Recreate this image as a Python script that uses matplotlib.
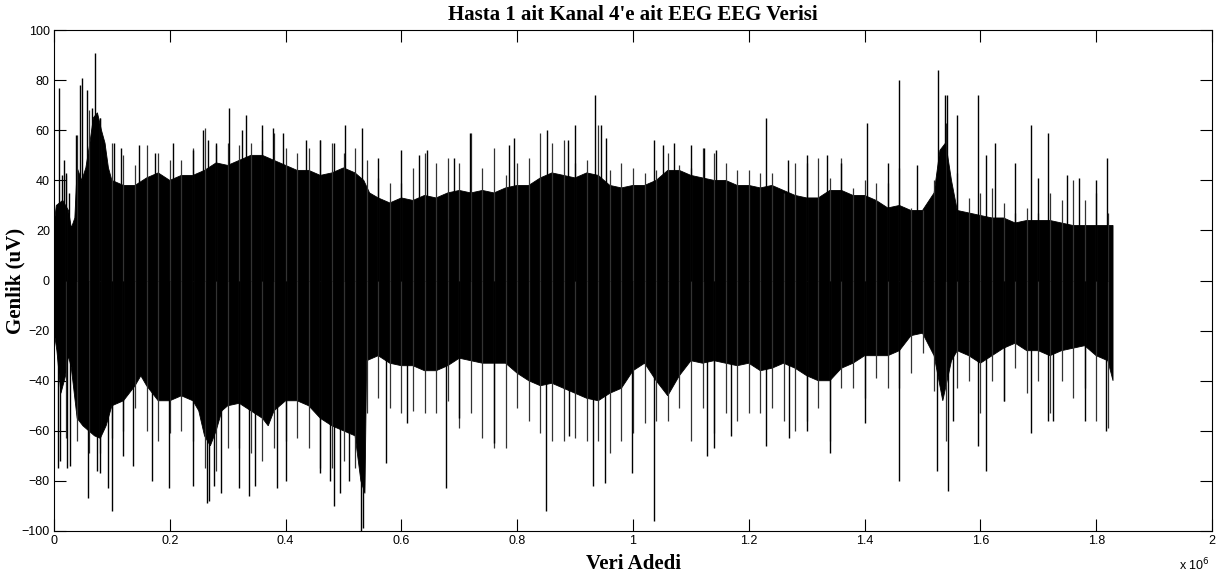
import numpy as np
import matplotlib.pyplot as plt

# signal envelope (x in units of 1e6 samples, uV)
env_x = [0.000, 0.004, 0.015, 0.025, 0.030, 0.036, 0.040, 0.048, 0.055, 0.062,
         0.068, 0.075, 0.082, 0.088, 0.094, 0.100, 0.12, 0.14, 0.16, 0.18,
         0.20, 0.22, 0.24, 0.26, 0.28, 0.30, 0.32, 0.34, 0.36, 0.38,
         0.40, 0.42, 0.44, 0.46, 0.48, 0.50, 0.52, 0.535, 0.545, 0.56,
         0.58, 0.60, 0.62, 0.64, 0.66, 0.68, 0.70, 0.72, 0.74, 0.76,
         0.78, 0.80, 0.82, 0.84, 0.86, 0.88, 0.90, 0.92, 0.94, 0.96,
         0.98, 1.00, 1.02, 1.04, 1.06, 1.08, 1.10, 1.12, 1.14, 1.16,
         1.18, 1.20, 1.22, 1.24, 1.26, 1.28, 1.30, 1.32, 1.34, 1.36,
         1.38, 1.40, 1.42, 1.44, 1.46, 1.48, 1.50, 1.52, 1.53, 1.54,
         1.55, 1.56, 1.58, 1.60, 1.62, 1.64, 1.66, 1.68, 1.70, 1.72,
         1.74, 1.76, 1.78, 1.80, 1.82, 1.829]
env_top = [22, 30, 32, 28, 21, 25, 45, 40, 45, 55,
           65, 67, 60, 55, 45, 40, 38, 38, 41, 43,
           40, 42, 42, 44, 47, 46, 48, 50, 50, 48,
           46, 44, 44, 42, 43, 45, 43, 40, 35, 33,
           31, 33, 32, 34, 33, 35, 36, 35, 36, 35,
           37, 38, 38, 41, 43, 42, 41, 43, 42, 38,
           37, 38, 38, 40, 44, 44, 42, 41, 40, 40,
           38, 38, 37, 38, 36, 34, 33, 33, 36, 36,
           34, 34, 32, 29, 30, 28, 28, 35, 52, 55,
           40, 28, 27, 26, 25, 25, 23, 24, 24, 24,
           23, 22, 22, 22, 22, 22]

env_low_x = [0.000, 0.005, 0.012, 0.02, 0.025, 0.03, 0.035, 0.04, 0.05, 0.06,
             0.07, 0.08, 0.09, 0.10, 0.12, 0.14, 0.15, 0.16, 0.18, 0.20,
             0.22, 0.24, 0.25, 0.26, 0.27, 0.28, 0.29, 0.30, 0.32, 0.34,
             0.36, 0.37, 0.38, 0.40, 0.42, 0.44, 0.46, 0.48, 0.50, 0.52,
             0.53, 0.537, 0.54, 0.56, 0.58, 0.60, 0.62, 0.64, 0.66, 0.68,
             0.70, 0.72, 0.74, 0.76, 0.78, 0.80, 0.82, 0.84, 0.86, 0.88,
             0.90, 0.92, 0.94, 0.96, 0.98, 1.00, 1.02, 1.04, 1.06, 1.08,
             1.10, 1.12, 1.14, 1.16, 1.18, 1.20, 1.22, 1.24, 1.26, 1.28,
             1.30, 1.32, 1.34, 1.36, 1.38, 1.40, 1.42, 1.44, 1.46, 1.48,
             1.50, 1.52, 1.535, 1.55, 1.56, 1.58, 1.60, 1.62, 1.64, 1.66,
             1.68, 1.70, 1.72, 1.74, 1.76, 1.78, 1.80, 1.82, 1.829]
env_low = [-20, -28, -45, -38, -30, -35, -45, -55, -58, -60,
           -62, -63, -58, -50, -48, -42, -38, -42, -48, -48,
           -46, -48, -52, -62, -66, -60, -52, -50, -49, -52,
           -55, -58, -52, -48, -48, -50, -55, -58, -60, -62,
           -80, -85, -32, -30, -33, -34, -34, -36, -36, -34,
           -31, -32, -33, -33, -33, -37, -40, -42, -41, -43,
           -45, -47, -48, -45, -43, -36, -33, -40, -46, -38,
           -32, -33, -32, -33, -34, -33, -36, -35, -33, -35,
           -38, -40, -40, -35, -33, -30, -30, -30, -28, -22,
           -21, -30, -48, -32, -28, -30, -33, -30, -27, -25,
           -28, -28, -30, -28, -27, -26, -30, -32, -40]

# ragged fringe just outside the body, every 0.02e6 samples
fringe_x = [0.02, 0.04, 0.06, 0.08, 0.10, 0.12, 0.14, 0.16, 0.18, 0.20,
            0.22, 0.24, 0.26, 0.28, 0.30, 0.32, 0.34, 0.36, 0.38, 0.40,
            0.42, 0.44, 0.46, 0.48, 0.50, 0.52, 0.54, 0.56, 0.58, 0.60,
            0.62, 0.64, 0.66, 0.68, 0.70, 0.72, 0.74, 0.76, 0.78, 0.80,
            0.82, 0.84, 0.86, 0.88, 0.90, 0.92, 0.94, 0.96, 0.98, 1.00,
            1.02, 1.04, 1.06, 1.08, 1.10, 1.12, 1.14, 1.16, 1.18, 1.20,
            1.22, 1.24, 1.26, 1.28, 1.30, 1.32, 1.34, 1.36, 1.38, 1.40,
            1.42, 1.44, 1.46, 1.48, 1.50, 1.52, 1.54, 1.56, 1.58, 1.60,
            1.62, 1.64, 1.66, 1.68, 1.70, 1.72, 1.74, 1.76, 1.78, 1.80,
            1.82]
fringe_top = [42, 58, 68, 65, 55, 50, 46, 54, 51, 48,
              48, 53, 61, 54, 55, 54, 55, 56, 59, 53,
              51, 53, 56, 55, 51, 53, 48, 41, 39, 39,
              45, 51, 47, 49, 47, 59, 45, 53, 42, 47,
              49, 59, 55, 56, 47, 48, 62, 44, 47, 45,
              43, 44, 51, 46, 45, 53, 51, 47, 44, 44,
              43, 43, 35, 47, 47, 49, 41, 49, 37, 40,
              39, 39, 45, 29, 28, 40, 63, 43, 33, 35,
              37, 31, 27, 29, 27, 35, 32, 40, 32, 35,
              27]
fringe_low = [-63, -64, -69, -69, -63, -60, -51, -60, -64, -61,
              -60, -64, -75, -76, -67, -67, -69, -72, -67, -64,
              -63, -67, -75, -75, -72, -75, -53, -47, -51, -53,
              -52, -53, -53, -48, -59, -53, -63, -67, -67, -51,
              -56, -61, -64, -64, -63, -64, -64, -69, -64, -61,
              -57, -56, -56, -51, -64, -51, -61, -53, -56, -53,
              -53, -51, -56, -60, -56, -51, -64, -43, -43, -47,
              -39, -43, -43, -37, -29, -44, -64, -43, -40, -53,
              -40, -48, -35, -45, -40, -53, -40, -47, -43, -56,
              -59]

# isolated peaks above the body
up_x = [0.009, 0.013, 0.018, 0.021, 0.026, 0.038, 0.045, 0.049, 0.057, 0.065,
        0.0714, 0.079, 0.086, 0.104, 0.116, 0.146, 0.175, 0.205, 0.24, 0.258,
        0.266, 0.28, 0.302, 0.325, 0.332, 0.360, 0.378, 0.395, 0.435, 0.46,
        0.484, 0.503, 0.532, 0.56, 0.60, 0.63, 0.644, 0.69, 0.719, 0.785,
        0.795, 0.852, 0.888, 0.90, 0.934, 0.944, 0.953, 1.037, 1.051, 1.071,
        1.10, 1.123, 1.143, 1.230, 1.268, 1.30, 1.335, 1.36, 1.404, 1.44,
        1.460, 1.49, 1.527, 1.538, 1.543, 1.560, 1.596, 1.61, 1.626, 1.66,
        1.687, 1.70, 1.717, 1.75, 1.77, 1.80, 1.818]
up_val = [77, 42, 48, 43, 35, 58, 78, 81, 76, 69,
          91, 65, 55, 55, 53, 54, 51, 55, 52, 60,
          56, 55, 69, 60, 66, 62, 61, 59, 56, 56,
          55, 62, 61, 49, 52, 50, 52, 49, 59, 54,
          57, 60, 56, 62, 74, 62, 57, 56, 54, 55,
          54, 53, 52, 65, 48, 50, 50, 47, 63, 47,
          80, 46, 84, 74, 74, 66, 74, 50, 55, 47,
          62, 41, 59, 42, 41, 40, 49]

# isolated peaks below the body
dn_x = [0.0075, 0.01, 0.022, 0.028, 0.058, 0.074, 0.080, 0.094, 0.0997, 0.12,
        0.137, 0.169, 0.198, 0.24, 0.264, 0.268, 0.276, 0.288, 0.32, 0.336,
        0.347, 0.385, 0.40, 0.46, 0.477, 0.484, 0.494, 0.51, 0.530, 0.533,
        0.573, 0.61, 0.677, 0.70, 0.76, 0.849, 0.89, 0.931, 0.951, 0.999,
        1.036, 1.127, 1.14, 1.17, 1.23, 1.27, 1.30, 1.340, 1.40, 1.460,
        1.525, 1.544, 1.553, 1.596, 1.610, 1.64, 1.687, 1.717, 1.725, 1.78,
        1.816]
dn_val = [-75, -72, -75, -74, -87, -76, -77, -83, -92, -70,
          -74, -80, -83, -82, -89, -88, -82, -85, -83, -86,
          -82, -83, -80, -77, -80, -90, -85, -80, -100, -99,
          -73, -57, -83, -55, -65, -92, -62, -82, -81, -77,
          -96, -70, -67, -62, -66, -63, -60, -69, -57, -80,
          -76, -84, -56, -66, -76, -48, -61, -56, -56, -56,
          -60]

plt.rcParams['font.family'] = ['Liberation Sans', 'DejaVu Sans']

fig = plt.figure(figsize=(12.19, 5.80), dpi=100)
ax = fig.add_axes([0.0443, 0.0845, 0.9500, 0.8635])

# fringe first, solid body on top so the grey lines don't show inside it
ax.vlines(fringe_x, 0, fringe_top, color='#333333', lw=0.9)
ax.vlines(fringe_x, fringe_low, 0, color='#333333', lw=0.9)
# body as one closed polygon: top edge left->right, bottom edge right->left
ax.fill(env_x + env_low_x[::-1], env_top + env_low[::-1],
        facecolor='black', edgecolor='black', lw=0.6)
ax.vlines(up_x, 0, up_val, color='black', lw=1)
ax.vlines(dn_x, dn_val, 0, color='black', lw=1)

ax.set_xlim(0, 2)
ax.set_ylim(-100, 100)
ax.set_xticks(np.arange(0, 2.01, 0.2))
ax.set_xticklabels(['0', '0.2', '0.4', '0.6', '0.8', '1', '1.2', '1.4', '1.6', '1.8', '2'])
ax.set_yticks(np.arange(-100, 101, 20))
ax.tick_params(direction='in', length=8.5, width=0.8, top=True, right=True,
               labelsize=9, pad=3)
for s in ax.spines.values():
    s.set_linewidth(0.8)

ax.set_title("Hasta 1 ait Kanal 4'e ait EEG EEG Verisi", family='Liberation Serif',
             fontweight='bold', fontsize=15, pad=7)
ax.set_xlabel('Veri Adedi', family='Liberation Serif', fontweight='bold', fontsize=15,
              labelpad=5)
ax.set_ylabel('Genlik (uV)', family='Liberation Serif', fontweight='bold', fontsize=15)
ax.yaxis.set_label_coords(-0.025, 0.5)
fig.text(0.9675, 0.012, r'x 10$^6$', fontsize=9, ha='left', va='bottom')

fig.savefig('out.png', dpi=100)
